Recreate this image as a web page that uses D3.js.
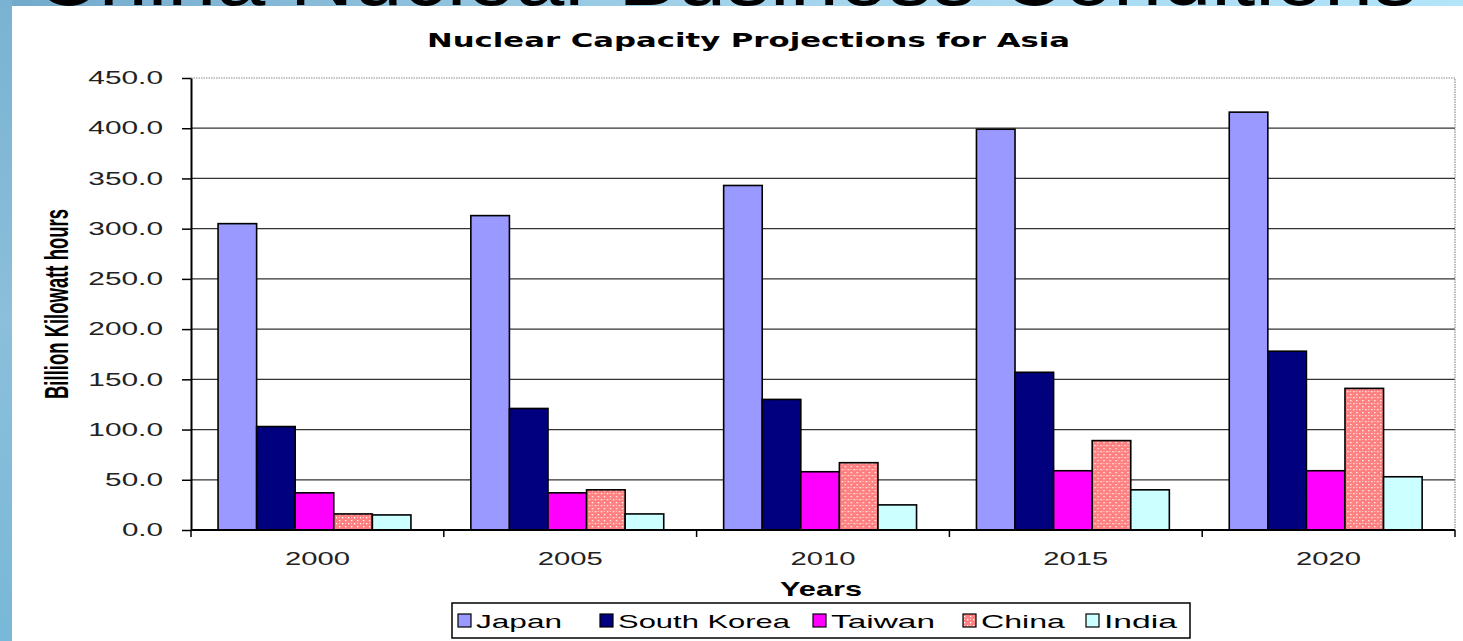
<!DOCTYPE html>
<html>
<head>
<meta charset="utf-8">
<script src="https://cdn.jsdelivr.net/npm/d3@7"></script>
<style>
  html, body { margin: 0; padding: 0; background: #fff; }
  svg { display: block; }
</style>
</head>
<body>
<svg id="chart" width="1463" height="641"></svg>
<script>
// ---- data ----
const years = ["2000", "2005", "2010", "2015", "2020"];
const seriesNames = ["Japan", "South Korea", "Taiwan", "China", "India"];
const japan = [305, 313, 343, 399, 416];
const southKorea = [103, 121, 130, 157, 178];
const taiwan = [37, 37, 58, 59, 59];
const china = [16, 40, 67, 89, 141];
const india = [15, 16, 25, 40, 53];
const yTicks = [0, 50, 100, 150, 200, 250, 300, 350, 400, 450];
const chartTitle = "Nuclear Capacity Projections for Asia";
const slideTitle = "China Nuclear Business Conditions";
const xTitle = "Years";
const yTitle = "Billion Kilowatt hours";

const seriesValues = [japan, southKorea, taiwan, china, india];
const fills = ["#9999FF", "url(#pSK)", "#FF00FF", "url(#pCN)", "#CCFFFF"];

const svg = d3.select("#chart");
const W = 1463, H = 641;

// ---- defs ----
const defs = svg.append("defs");
const bg = defs.append("linearGradient").attr("id", "bgGrad")
  .attr("x1", "0").attr("y1", "0").attr("x2", "1").attr("y2", "0");
bg.append("stop").attr("offset", "0").attr("stop-color", "#72a9cb");
bg.append("stop").attr("offset", "0.5").attr("stop-color", "#a3d3ea");
bg.append("stop").attr("offset", "1").attr("stop-color", "#b2e4fa");
const lg = defs.append("linearGradient").attr("id", "leftGrad")
  .attr("x1", "0").attr("y1", "0").attr("x2", "0").attr("y2", "1");
lg.append("stop").attr("offset", "0").attr("stop-color", "#7ab2d2");
lg.append("stop").attr("offset", "0.5").attr("stop-color", "#8bbfdb");
lg.append("stop").attr("offset", "1").attr("stop-color", "#79b8d8");

const pSK = defs.append("pattern").attr("id", "pSK").attr("patternUnits", "userSpaceOnUse")
  .attr("width", 3).attr("height", 3);
pSK.append("rect").attr("width", 3).attr("height", 3).attr("fill", "#000080");
pSK.append("rect").attr("x", 1).attr("y", 1).attr("width", 1).attr("height", 1).attr("fill", "#00006a");
const pCN = defs.append("pattern").attr("id", "pCN").attr("patternUnits", "userSpaceOnUse")
  .attr("width", 6).attr("height", 6);
pCN.append("rect").attr("width", 6).attr("height", 6).attr("fill", "#FF8080");
pCN.append("rect").attr("x", 1).attr("y", 1).attr("width", 1.3).attr("height", 1.3).attr("fill", "#ffffff");
pCN.append("rect").attr("x", 4).attr("y", 4).attr("width", 1.3).attr("height", 1.3).attr("fill", "#ffffff");
pCN.append("rect").attr("x", 4).attr("y", 1).attr("width", 1).attr("height", 1).attr("fill", "#ffd0d0");

// ---- background (slide) ----
svg.append("rect").attr("width", W).attr("height", H).attr("fill", "url(#bgGrad)");
svg.append("rect").attr("x", 0).attr("y", 0).attr("width", 12).attr("height", H).attr("fill", "url(#leftGrad)");
svg.append("text")
  .attr("x", 35).attr("y", 5)
  .attr("textLength", 1382).attr("lengthAdjust", "spacingAndGlyphs")
  .style("font-family", "'Liberation Sans', Arial, sans-serif")
  .style("font-size", "80px")
  .attr("fill", "#000")
  .text(slideTitle);
// white chart panel
svg.append("rect").attr("x", 12).attr("y", 6).attr("width", W - 12).attr("height", H - 6).attr("fill", "#fff");

// ---- scales ----
const plotL = 191, plotR = 1455, plotT = 78, plotB = 530;
const x = d3.scaleBand().domain(years).range([plotL, plotR]).paddingInner(0).paddingOuter(0);
const bw = x.bandwidth();
const x1 = d3.scaleBand().domain(seriesNames).range([bw * 0.107, bw * 0.87]).padding(0);
const y = d3.scaleLinear().domain([0, 450]).range([plotB, plotT]);

const charW = s => Array.from(s).reduce((a, c) => a + (c === "." ? 7.5 : 16.8), 0);

// gridlines
svg.append("g").selectAll("line").data(yTicks.filter(d => d > 0 && d < 450)).join("line")
  .attr("x1", plotL).attr("x2", plotR)
  .attr("y1", d => y(d)).attr("y2", d => y(d))
  .attr("stroke", "#333").attr("stroke-width", 1.3);
// dotted top & right border
svg.append("path")
  .attr("d", `M${plotL},${y(450)}H${plotR}V${plotB}`)
  .attr("fill", "none").attr("stroke", "#8a8a8a").attr("stroke-width", 1.2)
  .attr("stroke-dasharray", "1.5,1");

// bars
const groups = svg.append("g").selectAll("g").data(years).join("g")
  .attr("transform", d => `translate(${x(d)},0)`);
groups.selectAll("rect").data((yr, i) => seriesNames.map((s, k) => ({ s, k, v: seriesValues[k][i] })))
  .join("rect")
  .attr("x", d => x1(d.s))
  .attr("width", x1.bandwidth())
  .attr("y", d => y(d.v))
  .attr("height", d => y(0) - y(d.v))
  .attr("fill", d => fills[d.k])
  .attr("stroke", "#000").attr("stroke-width", 1.6);

// y axis
const yAxis = svg.append("g").attr("transform", `translate(${plotL},0)`)
  .call(d3.axisLeft(y).tickValues(yTicks).tickFormat(d3.format(".1f")).tickSize(9).tickSizeOuter(0).tickPadding(19));
yAxis.select(".domain").attr("stroke", "#000").attr("stroke-width", 2);
yAxis.selectAll(".tick line").attr("stroke", "#000").attr("stroke-width", 1.5);
yAxis.selectAll(".tick text")
  .attr("fill", "#222")
  .style("font-family", "'Liberation Sans', Arial, sans-serif")
  .style("font-size", "18px")
  .attr("textLength", function () { return charW(this.textContent); })
  .attr("lengthAdjust", "spacingAndGlyphs");

// x axis
svg.append("line").attr("x1", plotL).attr("x2", plotR).attr("y1", plotB).attr("y2", plotB)
  .attr("stroke", "#000").attr("stroke-width", 2);
const bounds = years.map(d => x(d)).concat([x(years[years.length - 1]) + bw]);
svg.append("g").selectAll("line").data(bounds).join("line")
  .attr("x1", d => d).attr("x2", d => d).attr("y1", plotB).attr("y2", plotB + 7)
  .attr("stroke", "#000").attr("stroke-width", 1.5);
svg.append("g").selectAll("text").data(years).join("text")
  .attr("x", d => x(d) + bw / 2).attr("y", 565)
  .attr("text-anchor", "middle")
  .attr("fill", "#222")
  .style("font-family", "'Liberation Sans', Arial, sans-serif")
  .style("font-size", "18px")
  .attr("textLength", 65).attr("lengthAdjust", "spacingAndGlyphs")
  .text(d => d);

// titles
svg.append("text")
  .attr("x", 427).attr("y", 47)
  .attr("textLength", 643).attr("lengthAdjust", "spacingAndGlyphs")
  .style("font-family", "'DejaVu Sans', Verdana, sans-serif")
  .style("font-weight", "bold").style("font-size", "19px")
  .attr("fill", "#000")
  .text(chartTitle);
svg.append("text")
  .attr("x", 780).attr("y", 596)
  .attr("textLength", 82).attr("lengthAdjust", "spacingAndGlyphs")
  .style("font-family", "'Liberation Sans', Arial, sans-serif")
  .style("font-weight", "bold").style("font-size", "21px")
  .attr("fill", "#000")
  .text(xTitle);
svg.append("text")
  .attr("transform", `translate(68,${(plotT + plotB) / 2}) rotate(-90)`)
  .attr("text-anchor", "middle")
  .attr("textLength", 190).attr("lengthAdjust", "spacingAndGlyphs")
  .style("font-family", "'Liberation Sans Narrow', 'Liberation Sans', Arial, sans-serif")
  .style("font-weight", "bold").style("font-size", "34px")
  .attr("fill", "#000")
  .text(yTitle);

// legend
const legendFills = ["#9999FF", "#000080", "#FF00FF", "url(#pCN)", "#CCFFFF"];
const legSwatchX = [458, 600, 813, 963, 1086];
const legTextX = [476, 618, 831, 981, 1104];
const legTextW = [86, 172, 104, 84, 73];
svg.append("rect").attr("x", 452).attr("y", 603).attr("width", 738).attr("height", 35)
  .attr("fill", "#fff").attr("stroke", "#000").attr("stroke-width", 1.5);
const leg = svg.append("g").selectAll("g").data(seriesNames).join("g");
leg.append("rect")
  .attr("x", (d, i) => legSwatchX[i]).attr("y", 614).attr("width", 13).attr("height", 13)
  .attr("fill", (d, i) => legendFills[i]).attr("stroke", "#000").attr("stroke-width", 1.2);
leg.append("text")
  .attr("x", (d, i) => legTextX[i]).attr("y", 628)
  .attr("textLength", (d, i) => legTextW[i]).attr("lengthAdjust", "spacingAndGlyphs")
  .style("font-family", "'Liberation Sans', Arial, sans-serif")
  .style("font-size", "19px")
  .attr("fill", "#000")
  .text(d => d);
</script>
</body>
</html>
